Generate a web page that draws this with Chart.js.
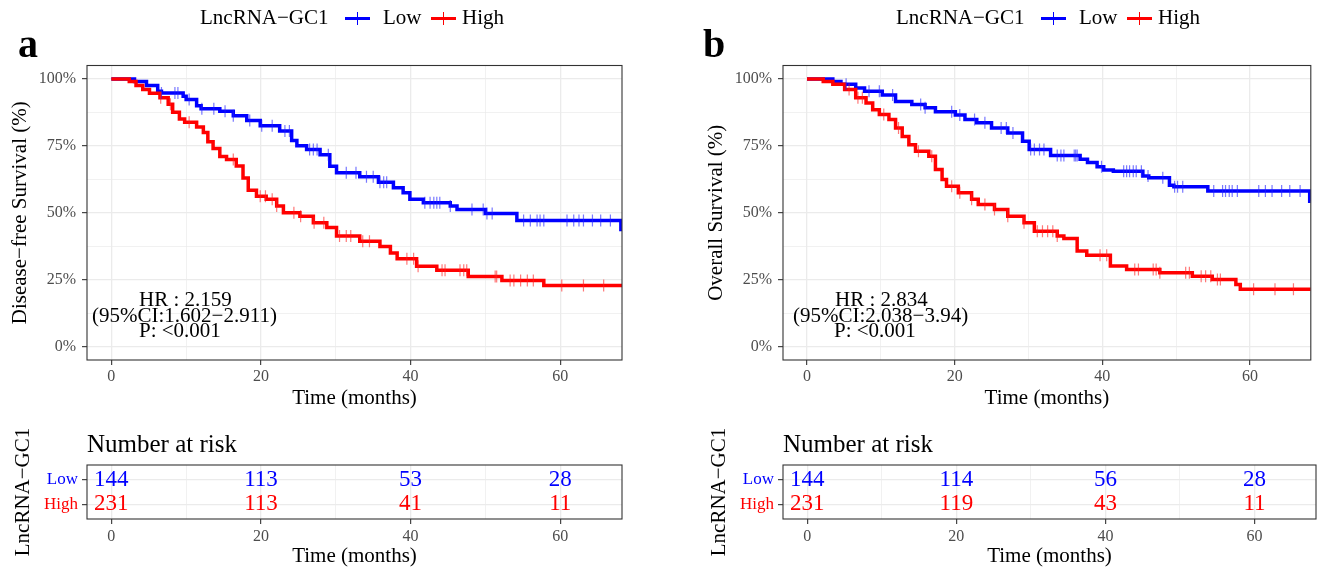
<!DOCTYPE html>
<html>
<head>
<meta charset="utf-8">
<title>LncRNA-GC1 survival</title>
<script src="https://cdn.jsdelivr.net/npm/chart.js@4.4.1/dist/chart.umd.min.js"></script>
<style>
  body { margin: 0; background: #fff; }
  #page { position: relative; width: 1318px; height: 571px; overflow: hidden; font-family: "Liberation Serif", "Times New Roman", serif; color: #000; }
  #page canvas { position: absolute; }
  .t { position: absolute; white-space: nowrap; line-height: 1; }
  .key { position: absolute; height: 3px; }
  .key i { position: absolute; left: 12px; top: -5px; width: 1px; height: 13px; }
</style>
</head>
<body>
<div id="page">
  <canvas id="kmA" width="660" height="420" style="left:0;top:0;width:660px;height:420px"></canvas>
  <canvas id="kmB" width="622" height="420" style="left:696px;top:0;width:622px;height:420px"></canvas>
  <canvas id="riskA" width="660" height="151" style="left:0;top:420px;width:660px;height:151px"></canvas>
  <canvas id="riskB" width="622" height="151" style="left:696px;top:420px;width:622px;height:151px"></canvas>

  <!-- panel letters -->
  <div class="t" style="left:18px;top:23.5px;font-size:40px;font-weight:bold">a</div>
  <div class="t" style="left:703px;top:23.5px;font-size:40px;font-weight:bold">b</div>

  <!-- legends -->
  <div class="t" style="left:200px;top:7px;font-size:21px">LncRNA&minus;GC1</div>
  <div class="key" style="left:345px;top:16.5px;width:25px;background:#0000FF"><i style="background:#0000FF"></i></div>
  <div class="t" style="left:383px;top:7px;font-size:21px">Low</div>
  <div class="key" style="left:431px;top:16.5px;width:25px;background:#FF0000"><i style="background:#FF0000"></i></div>
  <div class="t" style="left:462px;top:7px;font-size:21px">High</div>

  <div class="t" style="left:896px;top:7px;font-size:21px">LncRNA&minus;GC1</div>
  <div class="key" style="left:1041px;top:16.5px;width:25px;background:#0000FF"><i style="background:#0000FF"></i></div>
  <div class="t" style="left:1079px;top:7px;font-size:21px">Low</div>
  <div class="key" style="left:1127px;top:16.5px;width:25px;background:#FF0000"><i style="background:#FF0000"></i></div>
  <div class="t" style="left:1158px;top:7px;font-size:21px">High</div>

  <!-- hazard ratio notes -->
  <div class="t" style="left:139px;top:289.4px;font-size:21px">HR : 2.159</div>
  <div class="t" style="left:92px;top:304.9px;font-size:21px">(95%CI:1.602&minus;2.911)</div>
  <div class="t" style="left:139px;top:320.4px;font-size:21px">P: &lt;0.001</div>

  <div class="t" style="left:835px;top:289.4px;font-size:21px">HR : 2.834</div>
  <div class="t" style="left:793px;top:304.9px;font-size:21px">(95%CI:2.038&minus;3.94)</div>
  <div class="t" style="left:834px;top:320.4px;font-size:21px">P: &lt;0.001</div>

  <div class="t" style="left:87px;top:430.6px;font-size:25px">Number at risk</div>
  <div class="t" style="left:783px;top:430.6px;font-size:25px">Number at risk</div>
</div>

<script>
const timeTicks = [0, 10, 20, 30, 40, 50, 60]
const survTicks = [0, 0.125, 0.25, 0.375, 0.5, 0.625, 0.75, 0.875, 1]
const groups = ['Low', 'High']

// a: disease-free survival, step curves (time in months, survival fraction)
const dfsLowTime = [0, 3.1, 4.7, 6.2, 6.7, 9.6, 10.0, 11.4, 12.0, 14.5, 16.3, 18.1, 19.9, 22.5, 24.1, 24.8, 26.1, 27.9, 29.2, 30.1, 33.2, 35.7, 37.7, 39.0, 39.9, 41.7, 45.3, 46.2, 50.0, 54.2, 68.1, 68.25]
const dfsLowSurv = [1, 0.99, 0.975, 0.954, 0.947, 0.935, 0.923, 0.90, 0.888, 0.879, 0.862, 0.845, 0.825, 0.805, 0.77, 0.75, 0.736, 0.717, 0.674, 0.649, 0.634, 0.614, 0.593, 0.575, 0.55, 0.537, 0.525, 0.512, 0.497, 0.471, 0.437, 0.437]
const dfsLowCensor = [6.7, 8.5, 8.9, 10.4, 12.1, 13.7, 15.2, 16.3, 18.5, 20.1, 21.5, 23.2, 23.8, 26.5, 27.0, 27.5, 29.0, 31.4, 32.7, 34.1, 35.0, 35.9, 36.4, 36.8, 41.9, 42.6, 43.1, 43.5, 43.9, 45.3, 48.2, 49.7, 50.2, 50.9, 55.1, 56.0, 56.9, 57.3, 57.8, 60.9, 61.8, 62.5, 63.1, 64.3, 65.4, 66.7]

const dfsHighTime = [0, 2.4, 3.3, 4.2, 5.1, 6.5, 7.6, 8.2, 9.1, 9.8, 11.4, 12.3, 12.9, 13.6, 14.5, 15.4, 16.7, 17.6, 18.3, 19.4, 20.7, 22.1, 23.0, 25.2, 27.0, 28.8, 30.1, 33.2, 35.9, 37.3, 38.2, 40.8, 43.5, 47.7, 52.2, 57.8, 68.25]
const dfsHighSurv = [1, 0.99, 0.975, 0.96, 0.946, 0.93, 0.905, 0.875, 0.85, 0.838, 0.82, 0.80, 0.765, 0.74, 0.71, 0.699, 0.675, 0.63, 0.584, 0.562, 0.55, 0.525, 0.50, 0.487, 0.463, 0.445, 0.413, 0.394, 0.374, 0.35, 0.328, 0.30, 0.285, 0.262, 0.247, 0.228, 0.228]
const dfsHighCensor = [6.6, 7.9, 10.4, 16.3, 19.9, 20.6, 21.5, 22.1, 24.4, 25.3, 27.1, 28.4, 30.5, 31.4, 32.0, 33.6, 34.5, 39.5, 40.4, 41.0, 44.2, 44.6, 46.6, 47.1, 47.5, 51.3, 51.5, 53.3, 53.8, 54.7, 55.6, 56.4, 60.2, 63.1, 65.8]

// b: overall survival
const osLowTime = [0, 3.5, 4.6, 6.6, 7.8, 10.2, 12.0, 14.2, 16.0, 17.4, 20.1, 21.4, 23.0, 25.0, 27.2, 29.2, 30.1, 33.0, 37.0, 38.0, 39.3, 40.2, 41.5, 45.5, 46.3, 49.1, 49.7, 54.3, 68.1, 68.25]
const osLowSurv = [1, 0.99, 0.98, 0.966, 0.954, 0.94, 0.916, 0.904, 0.892, 0.877, 0.865, 0.848, 0.836, 0.817, 0.798, 0.767, 0.736, 0.714, 0.70, 0.688, 0.672, 0.66, 0.655, 0.637, 0.631, 0.603, 0.597, 0.581, 0.543, 0.543]
const osLowCensor = [5.3, 8.4, 9.8, 11.6, 15.4, 16.0, 19.6, 20.7, 22.7, 24.1, 26.3, 27.0, 27.9, 30.3, 30.8, 31.5, 32.1, 33.9, 34.4, 34.8, 36.2, 36.4, 36.6, 39.9, 42.9, 43.3, 43.7, 44.2, 44.6, 45.3, 46.2, 48.2, 49.8, 50.2, 50.9, 55.1, 56.3, 56.7, 57.2, 57.6, 58.3, 61.2, 62.1, 63.0, 64.3, 65.4, 66.8]

const osHighTime = [0, 2.2, 3.5, 5.1, 6.6, 8.0, 8.9, 9.8, 11.1, 12.0, 12.9, 13.8, 14.7, 16.5, 17.4, 18.3, 18.9, 20.5, 22.3, 23.2, 25.4, 27.2, 29.4, 30.8, 33.9, 34.8, 36.6, 37.9, 41.1, 43.3, 47.8, 52.2, 54.9, 58.1, 58.7, 68.25]
const osHighSurv = [1, 0.99, 0.98, 0.96, 0.93, 0.91, 0.885, 0.867, 0.848, 0.817, 0.785, 0.754, 0.73, 0.711, 0.662, 0.624, 0.599, 0.575, 0.55, 0.531, 0.512, 0.487, 0.463, 0.431, 0.413, 0.404, 0.357, 0.341, 0.301, 0.288, 0.276, 0.263, 0.251, 0.232, 0.214, 0.214]
const osHighCensor = [5.7, 6.9, 7.5, 10.4, 12.4, 15.1, 16.9, 19.6, 20.7, 22.3, 24.1, 25.4, 27.2, 29.4, 31.2, 31.9, 32.6, 33.3, 33.9, 39.7, 40.6, 44.4, 44.9, 46.9, 47.3, 47.8, 51.3, 51.8, 53.4, 54.0, 54.7, 55.6, 56.0, 60.5, 63.4, 65.9]

// number at risk
const riskTimes = [0, 20, 40, 60]
const dfsRiskLow = [144, 113, 53, 28]
const dfsRiskHigh = [231, 113, 41, 11]
const osRiskLow = [144, 114, 56, 28]
const osRiskHigh = [231, 119, 43, 11]

const serif = '"Liberation Serif", "Times New Roman", serif'
const lowColor = '#0000FF'
const highColor = '#FF0000'

function survAt(times, surv, t) { // survival value right after time t
  let s = surv[0]
  for (let i = 0; i < times.length; i++) if (times[i] <= t) s = surv[i]
  return s
}

function curve(times, surv, color, order) {
  return {
    type: 'line', order,
    data: times.map((t, i) => ({ x: t, y: surv[i] })),
    borderColor: color, borderWidth: 3.5, stepped: 'before',
    pointRadius: 0, pointHoverRadius: 0, fill: false
  }
}

function censorMarks(censor, times, surv, color, order) {
  return {
    type: 'scatter', order,
    data: censor.map(t => ({ x: t, y: survAt(times, surv, t) })),
    pointStyle: 'line', rotation: 90, radius: 6, hoverRadius: 6,
    borderWidth: 1.2, borderColor: color, backgroundColor: color
  }
}

const isMajor = (v, step) => Math.abs(v / step - Math.round(v / step)) < 1e-6

function gridFor(step) {
  return {
    color: '#EBEBEB',
    lineWidth: c => isMajor(c.tick.value, step) ? 1.3 : 0.7,
    tickColor: c => isMajor(c.tick.value, step) ? '#333333' : 'rgba(0,0,0,0)',
    tickLength: 5, tickWidth: 1.1
  }
}

const panelBorder = {
  id: 'panelBorder',
  afterDraw(chart) {
    const { ctx, chartArea: a } = chart
    ctx.save()
    ctx.strokeStyle = '#333333'
    ctx.lineWidth = 1.1
    ctx.strokeRect(a.left, a.top, a.right - a.left, a.bottom - a.top)
    ctx.restore()
  }
}

const riskNumbers = {
  id: 'riskNumbers',
  afterDatasetsDraw(chart) {
    const ctx = chart.ctx
    ctx.save()
    ctx.font = `23px ${serif}`
    ctx.textAlign = 'center'
    ctx.textBaseline = 'middle'
    chart.data.datasets.forEach((ds, i) => {
      ctx.fillStyle = ds.borderColor
      chart.getDatasetMeta(i).data.forEach((pt, j) => ctx.fillText(ds.data[j].n, pt.x, pt.y))
    })
    ctx.restore()
  }
}

function timeAxis(height, titlePad, tickPad) {
  return {
    type: 'linear', min: -3.25, max: 68.25,
    afterBuildTicks: s => { s.ticks = timeTicks.map(v => ({ value: v })) },
    afterFit: s => { s.height = height },
    ticks: { callback: v => isMajor(v, 20) ? v : '', color: '#4D4D4D', font: { family: serif, size: 16 }, padding: tickPad, maxRotation: 0, autoSkip: false },
    grid: gridFor(20),
    border: { display: false },
    title: { display: true, text: 'Time (months)', color: '#000', font: { family: serif, size: 21, lineHeight: 1 }, padding: { top: 0, bottom: titlePad } }
  }
}

function kmChart(id, yTitle, lowT, lowS, lowC, highT, highS, highC, padRight) {
  new Chart(document.getElementById(id), {
    type: 'scatter',
    data: {
      datasets: [
        censorMarks(highC, highT, highS, 'rgba(255,30,30,0.6)', 0),
        censorMarks(lowC, lowT, lowS, 'rgba(30,30,255,0.6)', 1),
        curve(highT, highS, highColor, 2),
        curve(lowT, lowS, lowColor, 3)
      ]
    },
    options: {
      responsive: false, animation: false, events: [],
      layout: { padding: { top: 65.5, right: padRight, bottom: 0, left: 0 } },
      plugins: { legend: { display: false }, tooltip: { enabled: false } },
      scales: {
        x: timeAxis(60, 11.5, 2),
        y: {
          type: 'linear', min: -0.05, max: 1.05,
          afterBuildTicks: s => { s.ticks = survTicks.map(v => ({ value: v })) },
          afterFit: s => { s.width = 87 },
          ticks: { callback: v => isMajor(v, 0.25) ? Math.round(v * 100) + '%' : '', color: '#4D4D4D', font: { family: serif, size: 16 }, padding: 6 },
          grid: gridFor(0.25),
          border: { display: false },
          title: { display: true, text: yTitle, color: '#000', font: { family: serif, size: 21, lineHeight: 1 }, padding: { top: 9.5, bottom: 0 } }
        }
      }
    },
    plugins: [panelBorder]
  })
}

function riskChart(id, lowN, highN, padRight) {
  const rowOf = { Low: 2, High: 1 }
  new Chart(document.getElementById(id), {
    type: 'scatter',
    data: {
      datasets: [
        { label: groups[0], data: riskTimes.map((t, i) => ({ x: t, y: rowOf.Low, n: lowN[i] })), borderColor: lowColor, pointRadius: 0 },
        { label: groups[1], data: riskTimes.map((t, i) => ({ x: t, y: rowOf.High, n: highN[i] })), borderColor: highColor, pointRadius: 0 }
      ]
    },
    options: {
      responsive: false, animation: false, events: [],
      layout: { padding: { top: 45, right: padRight, bottom: 0, left: 0 } },
      plugins: { legend: { display: false }, tooltip: { enabled: false } },
      scales: {
        x: timeAxis(52, 3.8, 3),
        y: {
          type: 'linear', min: 0.4, max: 2.6,
          afterBuildTicks: s => { s.ticks = [{ value: 1 }, { value: 2 }] },
          afterFit: s => { s.width = 87 },
          ticks: { callback: v => v === 2 ? groups[0] : groups[1], color: c => c.tick.value === 2 ? lowColor : highColor, font: { family: serif, size: 17 }, padding: 4 },
          grid: { color: '#EBEBEB', lineWidth: 1.3, tickColor: '#333333', tickLength: 5, tickWidth: 1.1 },
          border: { display: false },
          title: { display: true, text: 'LncRNA\u2212GC1', color: '#000', font: { family: serif, size: 21, lineHeight: 1 }, padding: { top: 12.5, bottom: 0 } }
        }
      }
    },
    plugins: [panelBorder, riskNumbers]
  })
}

kmChart('kmA', 'Disease\u2212free Survival (%)', dfsLowTime, dfsLowSurv, dfsLowCensor, dfsHighTime, dfsHighSurv, dfsHighCensor, 38)
kmChart('kmB', 'Overall Survival (%)', osLowTime, osLowSurv, osLowCensor, osHighTime, osHighSurv, osHighCensor, 2)
riskChart('riskA', dfsRiskLow, dfsRiskHigh, 38)
riskChart('riskB', osRiskLow, osRiskHigh, 2)
</script>
</body>
</html>
